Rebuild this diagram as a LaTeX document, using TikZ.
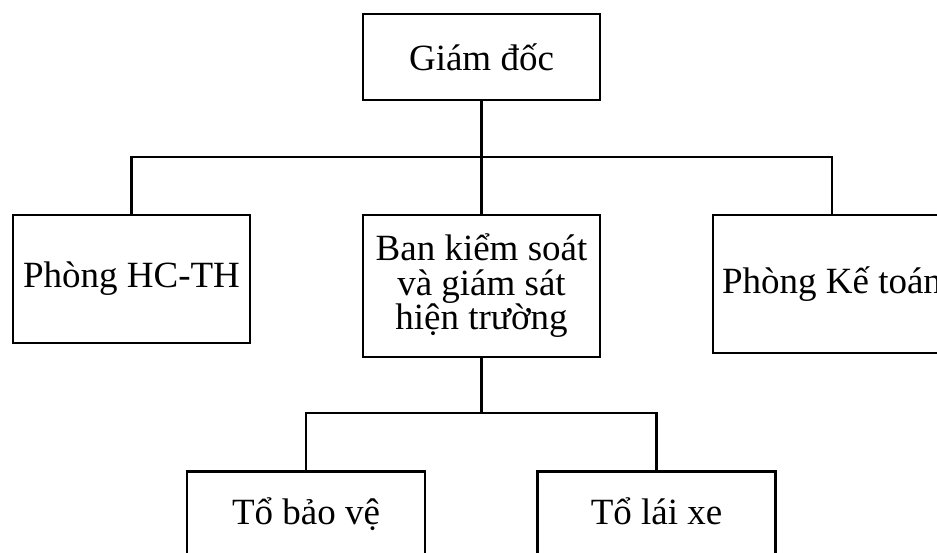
\documentclass[tikz,border=0pt]{standalone}
\usepackage{fontspec}
\setmainfont{Liberation Serif}
\begin{document}
\begin{tikzpicture}[x=1pt,y=-1pt,
  line width=2.6pt, line join=miter,
  unit/.style={draw, line width=2.6pt, inner sep=0pt, align=center,
    font=\fontsize{37}{34.5}\selectfont, minimum width=237pt},
  team/.style={unit, anchor=north, minimum width=238pt,
    text height=47pt, text depth=50pt, inner ysep=6pt}]
  \useasboundingbox (0,0) rectangle (937,553);
  \clip (0,0) rectangle (937,553);

  % top level
  \node[unit, minimum height=86pt] (gd) at (481.5,57) {Giám đốc};

  % departments
  \node[unit, minimum height=128pt] (hc) at (131.5,279) {Phòng HC-TH};
  \node[unit, minimum height=142pt] (ban) at (481.5,286)
    {Ban kiểm soát\\và giám sát\\hiện trường};
  \node[unit, minimum width=238pt, minimum height=138pt] (kt) at (832,284)
    {Phòng Kế toán};

  % teams under the supervision board
  \node[team] (bv) at (306,470) {Tổ bảo vệ};
  \node[team] (lx) at (656.5,470) {Tổ lái xe};

  % branch points
  \coordinate (bus1) at (481.5,157);
  \coordinate (bus2) at (481.5,413);

  % connectors
  \draw (gd.south) -- (ban.north);
  \draw (hc.north) |- (bus1) -| (kt.north);
  \draw (ban.south) -- (bus2);
  \draw (bv.north) |- (bus2) -| (lx.north);
\end{tikzpicture}
\end{document}
